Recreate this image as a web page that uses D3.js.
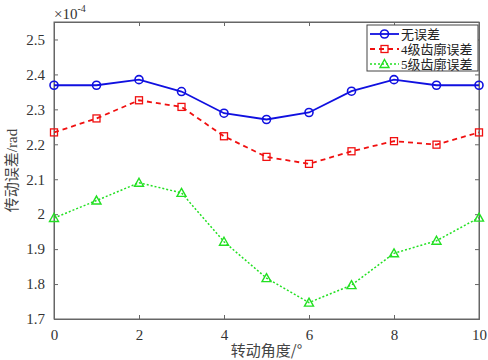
<!DOCTYPE html>
<html><head><meta charset="utf-8">
<script src="https://cdn.jsdelivr.net/npm/d3@7"></script>
<style>body{margin:0;background:#fff}svg{display:block}</style>
</head><body>
<svg id="c" width="488" height="360"></svg>
<script>
const angles = [0,1,2,3,4,5,6,7,8,9,10];
const noError = [2.369,2.369,2.385,2.351,2.289,2.271,2.291,2.352,2.385,2.369,2.369];
const grade4 = [2.234,2.274,2.326,2.307,2.223,2.164,2.144,2.180,2.209,2.199,2.234];
const grade5 = [1.989,2.039,2.090,2.061,1.921,1.817,1.747,1.797,1.888,1.924,1.990];
const seriesNames = ["无误差","4级齿廓误差","5级齿廓误差"];
const xTicks = [0,2,4,6,8,10];
const yTicks = [1.7,1.8,1.9,2.0,2.1,2.2,2.3,2.4,2.5];

const svg = d3.select("#c");
const L=54,R=479,T=22,B=319;
const x = d3.scaleLinear().domain([0,10]).range([L,R]);
const y = d3.scaleLinear().domain([1.7,2.55]).range([B,T]);
const serif = "'Liberation Serif', 'Times New Roman', serif";
const cjk = "'Noto Sans CJK SC', 'Noto Sans', sans-serif";
const axisCol = "#666";

svg.append("rect").attr("x",L).attr("y",T).attr("width",R-L).attr("height",B-T)
  .attr("fill","none").attr("stroke",axisCol).attr("stroke-width",1);

const fmtY = d => String(Math.round(d*10)/10);
const gx = svg.append("g").attr("transform",`translate(0,${B})`)
  .call(d3.axisBottom(x).tickValues(xTicks).tickSize(-4).tickPadding(10).tickFormat(d3.format("d")));
const gxt = svg.append("g").attr("transform",`translate(0,${T})`)
  .call(d3.axisTop(x).tickValues(xTicks).tickSize(-4).tickFormat(""));
const gy = svg.append("g").attr("transform",`translate(${L},0)`)
  .call(d3.axisLeft(y).tickValues(yTicks).tickSize(-4).tickPadding(9).tickFormat(fmtY));
const gyr = svg.append("g").attr("transform",`translate(${R},0)`)
  .call(d3.axisRight(y).tickValues(yTicks).tickSize(-4).tickFormat(""));
[gx,gxt,gy,gyr].forEach(g=>{
  g.attr("font-family",null);
  g.select(".domain").attr("stroke",axisCol);
  g.selectAll(".tick line").attr("stroke",axisCol);
  g.selectAll("text").style("font-family",serif).style("font-size","15px").attr("fill","#333");
});

const ex = svg.append("text").attr("x",L).attr("y",19).style("font-family",serif).style("font-size","15px").attr("fill","#333");
ex.append("tspan").text("×10");
ex.append("tspan").style("font-size","10px").attr("dy",-7).text("-4");

svg.append("text").attr("x",(L+R)/2).attr("y",356).attr("text-anchor","middle")
  .style("font-family",cjk).style("font-size","15px").attr("fill","#444").text("转动角度/°");
svg.append("text").attr("transform",`translate(17,${(T+B)/2}) rotate(-90)`).attr("text-anchor","middle")
  .style("font-family",serif+", 'Noto Sans CJK SC'").style("font-size","15px").attr("fill","#444").text("传动误差/rad");

const series = [
  {vals:noError, color:"#1010e0", dash:null, w:1.8, marker:"circle"},
  {vals:grade4, color:"#f01010", dash:"5,4", w:1.8, marker:"square"},
  {vals:grade5, color:"#22e022", dash:"2,2", w:1.5, marker:"triangle"}
];
const line = d3.line().x((d,i)=>x(angles[i])).y(d=>y(d));
function drawMarker(g, type, cx, cy, color){
  if(type==="circle") g.append("circle").attr("cx",cx).attr("cy",cy).attr("r",4).attr("fill","none").attr("stroke",color).attr("stroke-width",1.6);
  else if(type==="square") g.append("rect").attr("x",cx-3.5).attr("y",cy-3.5).attr("width",7).attr("height",7).attr("fill","none").attr("stroke",color).attr("stroke-width",1.3);
  else g.append("path").attr("d",`M${cx},${cy-4.5}L${cx+4.5},${cy+3.5}L${cx-4.5},${cy+3.5}Z`).attr("fill","none").attr("stroke",color).attr("stroke-width",1.4);
}
series.forEach(s=>{
  svg.append("path").datum(s.vals).attr("d",line).attr("fill","none")
    .attr("stroke",s.color).attr("stroke-width",s.w).attr("stroke-dasharray",s.dash);
  const g = svg.append("g");
  s.vals.forEach((v,i)=>drawMarker(g,s.marker,x(angles[i]),y(v),s.color));
});

const lg = svg.append("g");
lg.append("rect").attr("x",367).attr("y",25).attr("width",111).attr("height",46)
  .attr("fill","#fff").attr("stroke","#444").attr("stroke-width",1);
series.forEach((s,i)=>{
  const yy = 34 + i*15;
  lg.append("line").attr("x1",370).attr("x2",399).attr("y1",yy).attr("y2",yy)
    .attr("stroke",s.color).attr("stroke-width",s.w).attr("stroke-dasharray",s.dash);
  drawMarker(lg,s.marker,384.5,yy,s.color);
  lg.append("text").attr("x",401).attr("y",yy+4.5).style("font-family",serif+", 'Noto Sans CJK SC'")
    .style("font-size","13px").attr("fill","#222").text(seriesNames[i]);
});
</script>
</body></html>
